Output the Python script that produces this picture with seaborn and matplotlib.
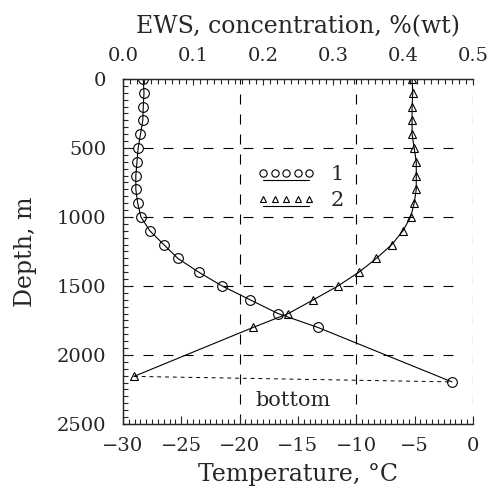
import numpy as np
import pandas as pd
import matplotlib
matplotlib.use("Agg")
import matplotlib.pyplot as plt
import seaborn as sns
from matplotlib.lines import Line2D
from matplotlib.legend_handler import HandlerLine2DCompound
from matplotlib.ticker import MultipleLocator, FormatStrFormatter

# series 1 (circles): temperature profile
depth_1 = [0, 100, 200, 300, 400, 500, 600, 700, 800, 900, 1000,
           1100, 1200, 1300, 1400, 1500, 1600, 1700, 1800, 2195]
temp_1 = [-28.26, -28.2, -28.26, -28.3, -28.5, -28.7, -28.8, -28.9, -28.9, -28.74, -28.46,
          -27.7, -26.5, -25.3, -23.5, -21.5, -19.1, -16.7, -13.3, -1.8]

# series 2 (triangles): EWS concentration profile
depth_2 = [0, 100, 200, 300, 400, 500, 600, 700, 800, 900, 1000,
           1100, 1200, 1300, 1400, 1500, 1600, 1700, 1800, 2155]
conc_2 = [0.413, 0.414, 0.413, 0.413, 0.413, 0.416, 0.419, 0.419, 0.419, 0.416, 0.411,
          0.400, 0.384, 0.362, 0.337, 0.307, 0.272, 0.236, 0.186, 0.0157]

legend_labels = ["1", "2"]

sns.set_style("ticks")
plt.rcParams['font.family'] = ['DejaVu Serif']
plt.rcParams['axes.linewidth'] = 0.9


class UnderlineHandler(HandlerLine2DCompound):
    # legend line drawn under the markers, like in the original figure
    def create_artists(self, legend, orig_handle, xdescent, ydescent,
                       width, height, fontsize, trans):
        arts = super().create_artists(legend, orig_handle, xdescent, ydescent,
                                      width, height, fontsize, trans)
        line = arts[0]
        line.set_ydata(np.asarray(line.get_ydata()) - 0.5 * height)
        return arts


fig = plt.figure(figsize=(4.89, 4.94), dpi=100)
ax = fig.add_axes([0.2515, 0.1417, 0.7157, 0.6984])
ax2 = ax.twiny()

df1 = pd.DataFrame({"T": temp_1, "depth": depth_1})
df2 = pd.DataFrame({"c": conc_2, "depth": depth_2})

sns.lineplot(data=df1, x="T", y="depth", orient="y", sort=False, estimator=None,
             ax=ax, color="black", lw=0.8, marker="o", markersize=7,
             markerfacecolor="none", markeredgecolor="black", markeredgewidth=0.8)
sns.lineplot(data=df2, x="c", y="depth", orient="y", sort=False, estimator=None,
             ax=ax2, color="black", lw=0.8, marker="^", markersize=6,
             markerfacecolor="none", markeredgecolor="black", markeredgewidth=0.8)

ax.set_xlim(-30, 0)
ax.set_ylim(2500, 0)
ax2.set_xlim(0, 0.5)

# bottom of the borehole: join the two deepest points
ax.plot([conc_2[-1] * 60 - 30, temp_1[-1]], [depth_2[-1], depth_1[-1]],
        color="black", lw=0.7, ls=(0, (4, 4)))
ax.text(-15.4, 2330, "bottom", ha="center", va="center", fontsize=15)

# dashed grid
for x in [-20, -10, 0]:
    ax.axvline(x, color="black", lw=0.8, ls=(0, (9, 9)), zorder=0)
for y in [500, 1000, 1500, 2000]:
    ax.axhline(y, xmax=0.97, color="black", lw=0.8, ls=(0, (9, 9)), zorder=0)

for a in (ax, ax2):
    a.spines['right'].set_visible(False)

ax.xaxis.set_major_locator(MultipleLocator(5))
ax.xaxis.set_minor_locator(MultipleLocator(0.5))
ax.yaxis.set_major_locator(MultipleLocator(500))
ax.yaxis.set_minor_locator(MultipleLocator(50))
ax2.xaxis.set_major_locator(MultipleLocator(0.1))
ax2.xaxis.set_minor_locator(MultipleLocator(0.01))
ax2.xaxis.set_major_formatter(FormatStrFormatter('%.1f'))

ax.tick_params(which="both", direction="in", top=False, right=False, labelsize=14, width=0.8)
ax.tick_params(which="major", length=6)
ax.tick_params(which="minor", length=3.5)
ax.tick_params(axis="x", pad=9)
ax.tick_params(axis="y", pad=12)
ax2.tick_params(which="both", direction="in", labelsize=14, width=0.8, pad=10)
ax2.tick_params(which="major", length=4)
ax2.tick_params(which="minor", length=3.5)

ax.set_xlabel("Temperature, °C", fontsize=17, labelpad=6)
ax.set_ylabel("Depth, m", fontsize=17, labelpad=14)
ax2.set_xlabel("EWS, concentration, %(wt)", fontsize=17, labelpad=10)

h1 = ax.lines[0]
h2 = ax2.lines[0]
ax.legend([h1, h2], legend_labels, handler_map={Line2D: UnderlineHandler(numpoints=5)},
          loc="upper left", bbox_to_anchor=(0.33, 0.805), frameon=False,
          fontsize=15, handlelength=2.8, handletextpad=0.7, labelspacing=0.35,
          markerscale=0.75)

fig.savefig("out.png", dpi=100)
